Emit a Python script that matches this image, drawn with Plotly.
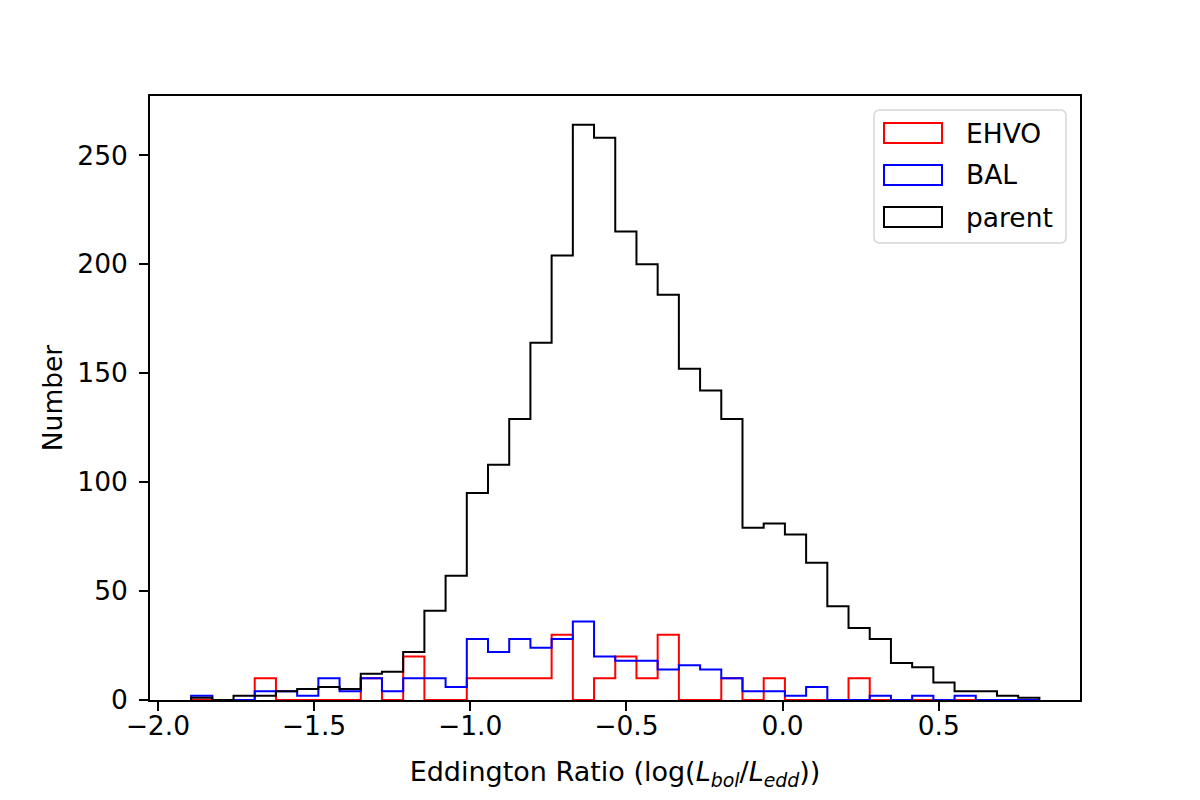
import numpy as np
import plotly.graph_objects as go

# ---- data ----
bin_lo = -1.8934
bin_hi = 0.8220
n_bins = 40

ehvo = [0, 0, 0, 10, 0, 0, 0, 0, 10, 0,
        20, 0, 0, 10, 10, 10, 10, 30, 0, 10,
        20, 10, 30, 0, 0, 10, 0, 10, 0, 0,
        0, 10, 0, 0, 0, 0, 0, 0, 0, 0]
bal = [2, 0, 0, 4, 4, 2, 10, 4, 10, 4,
       10, 10, 6, 28, 22, 28, 24, 28, 36, 20,
       18, 18, 14, 16, 14, 10, 4, 4, 2, 6,
       0, 0, 2, 0, 2, 0, 2, 0, 0, 0]
parent = [1, 0, 2, 2, 4, 5, 6, 5, 12, 13,
          22, 41, 57, 95, 108, 129, 164, 204, 264, 258,
          215, 200, 186, 152, 142, 129, 79, 81, 76, 63,
          43, 33, 28, 17, 15, 8, 4, 4, 2, 1]

series_names = ["EHVO", "BAL", "parent"]
series_colors = ["#ff0000", "#0000ff", "#000000"]

x_ticks = [-2.0, -1.5, -1.0, -0.5, 0.0, 0.5]
y_ticks = [0, 50, 100, 150, 200, 250]

edges = np.linspace(bin_lo, bin_hi, n_bins + 1)


def step_xy(counts):
    xs = [edges[0]] + list(edges[:-1]) + [edges[-1]]
    ys = [0] + list(counts) + [0]
    return xs, ys


fig = go.Figure()
for name, counts, col in zip(series_names, [ehvo, bal, parent], series_colors):
    xs, ys = step_xy(counts)
    fig.add_trace(go.Scatter(x=xs, y=ys, mode="lines", name=name,
                             line=dict(color=col, width=2, shape="hv"),
                             showlegend=False, hoverinfo="skip"))

FONT = "DejaVu Sans"
FS = 26.5

# plot area in pixels
L, R, T, B = 150, 1080, 96, 700


def px(x):
    return (x - L) / (R - L)


def py(y):
    return (B - y) / (B - T)


shapes = []
annotations = []
# legend frame (rounded)
bx0, bx1, by0, by1, r = 874, 1066, 110, 243, 6
rx = r / (R - L)
ry = r / (B - T)
X0, X1, Y0, Y1 = px(bx0), px(bx1), py(by1), py(by0)
path = (f"M{X0 + rx},{Y0} L{X1 - rx},{Y0} Q{X1},{Y0} {X1},{Y0 + ry} "
        f"L{X1},{Y1 - ry} Q{X1},{Y1} {X1 - rx},{Y1} L{X0 + rx},{Y1} "
        f"Q{X0},{Y1} {X0},{Y1 - ry} L{X0},{Y0 + ry} Q{X0},{Y0} {X0 + rx},{Y0} Z")
shapes.append(dict(type="path", xref="paper", yref="paper", path=path,
                   line=dict(color="#d6d6d6", width=1.5),
                   fillcolor="rgba(255,255,255,0.8)", layer="above"))
row_y = [133, 175, 217]
for name, col, yc in zip(series_names, series_colors, row_y):
    shapes.append(dict(type="rect", xref="paper", yref="paper",
                       x0=px(884), x1=px(942), y0=py(yc + 10), y1=py(yc - 10),
                       line=dict(color=col, width=2),
                       fillcolor="rgba(0,0,0,0)", layer="above"))
    annotations.append(dict(xref="paper", yref="paper", x=px(964), y=py(yc),
                            text=name, showarrow=False, xanchor="left",
                            yanchor="middle",
                            font=dict(family=FONT, size=FS, color="black")))

fig.update_layout(
    width=1200, height=800,
    margin=dict(l=L, r=1200 - R, t=T, b=800 - B, pad=0),
    paper_bgcolor="white", plot_bgcolor="white",
    font=dict(family=FONT, size=FS, color="black"),
    shapes=shapes, annotations=annotations,
    showlegend=False,
)
fig.update_xaxes(
    range=[-2.025, 0.952], tickvals=x_ticks, tickformat=".1f",
    showgrid=False, zeroline=False,
    showline=True, linecolor="black", linewidth=1.6, mirror=True,
    ticks="outside", ticklen=9, tickwidth=1.6, tickcolor="black",
    ticklabelstandoff=-8,
    title=dict(text="Eddington Ratio (log(<i>L</i><sub><i>bol</i></sub>/<i>L</i><sub><i>edd</i></sub>))",
               standoff=23, font=dict(family=FONT, size=FS + 0.5)),
)
fig.update_yaxes(
    range=[0, 277.2], tickvals=y_ticks,
    showgrid=False, zeroline=False,
    showline=True, linecolor="black", linewidth=1.6, mirror=True,
    ticks="outside", ticklen=9, tickwidth=1.6, tickcolor="black",
    ticklabelstandoff=6,
    title=dict(text="Number", standoff=7, font=dict(family=FONT, size=FS)),
)

fig.write_html("out.html", config={"displayModeBar": False},
               post_script="document.body.style.margin='0';")
